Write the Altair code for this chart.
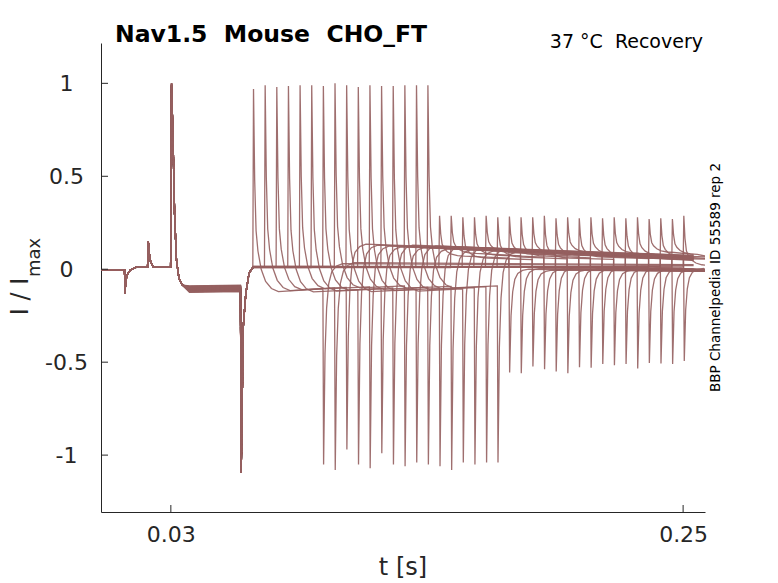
import altair as alt
import pandas as pd

# ---------------- data ----------------
n_sweeps = 38
# onset of the test pulse in every sweep (s)
test_t = [0.0652, 0.0702, 0.0752, 0.0802, 0.0852, 0.0902, 0.0952, 0.1002, 0.1052, 0.1102,
          0.1152, 0.1202, 0.1252, 0.1302, 0.1352, 0.1401, 0.1451, 0.1501, 0.1551, 0.1601,
          0.1651, 0.1701, 0.1751, 0.1801, 0.1851, 0.1901, 0.1951, 0.2001, 0.2051, 0.2101,
          0.2151, 0.2201, 0.2251, 0.2301, 0.2351, 0.2401, 0.2451, 0.2500]
pulse_len = 0.0301
# common start of every sweep
prefix_t = [0.0, 0.0101, 0.0103, 0.0106, 0.0112, 0.0125, 0.0150, 0.0200, 0.0203, 0.0207, 0.0213, 0.0225, 0.0299]
prefix_y = [-0.002, -0.002, -0.13, -0.07, -0.03, -0.005, 0.01, 0.012, 0.15, 0.09, 0.04, 0.012, 0.01]
p1_t = 0.0303
p1_tail_t = [0.0309, 0.0316, 0.0324, 0.0335, 0.0350]
p1_tail_y = [0.72, 0.30, 0.05, -0.05, -0.085]
hold_t = [0.0380, 0.0599]
tail_t = [0.0602, 0.0611, 0.0622, 0.0636]
tail_y = [-1.095, -0.31, -0.13, -0.02]
p1_peak = [1.0, 0.995, 0.99, 1.0, 0.985, 0.99, 0.995, 1.0, 0.98, 0.99, 0.995, 0.985, 1.0, 0.99,
           0.975, 0.995, 0.99, 1.0, 0.985, 0.99, 0.995, 0.98, 1.0, 0.99, 0.985, 0.995, 0.99, 1.0,
           0.98, 0.99, 0.995, 0.985, 1.0, 0.99, 0.97, 0.995, 0.99, 1.0]
hold_level = [-0.125, -0.12, -0.118, -0.115, -0.112, -0.11, -0.108, -0.105, -0.102, -0.1,
              -0.098, -0.095, -0.092, -0.09, -0.122, -0.117, -0.113, -0.109, -0.106, -0.103,
              -0.1, -0.097, -0.094, -0.12, -0.115, -0.111, -0.107, -0.104, -0.101, -0.099,
              -0.096, -0.093, -0.119, -0.114, -0.11, -0.106, -0.102, -0.098]
pre_level = [0.012, 0.01, 0.014, 0.011, 0.013, 0.009, 0.012, 0.015, 0.01, 0.013, 0.011, 0.014,
             0.012, 0.01, 0.013, 0.011, 0.012, 0.009, 0.014, 0.01, 0.013, 0.011, 0.012, 0.015,
             0.01, 0.013, 0.011, 0.012, 0.014, 0.01, 0.012, 0.013, 0.011, 0.012, 0.01, 0.014,
             0.012, 0.012]
up_peak = [0.97, 0.99, 0.98, 0.985, 0.99, 0.99, 0.985, 1.0, 0.99, 0.98, 0.99, 0.985, 0.985, 0.99, 0.99, 0.99,
           0.287, 0.287, 0.279, 0.279, 0.287, 0.279, 0.283, 0.279, 0.279, 0.287, 0.274, 0.279,
           0.274, 0.279, 0.274, 0.279, 0.274, 0.279, 0.270, 0.274, 0.270, 0.287]
test_level = [-0.12, -0.115, -0.11, -0.122, -0.105, -0.118, -0.112, -0.1, -0.12, -0.108, -0.115,
              -0.102, -0.118, -0.11, -0.105, -0.1,
              0.07, 0.085, 0.06, 0.075, 0.09, 0.065, 0.08, 0.07, 0.085, 0.06, 0.075, 0.09,
              0.065, 0.08, 0.07, 0.085, 0.06, 0.075, 0.09, 0.065, 0.08, 0.02]
test_level_end = [-0.105, -0.1, -0.098, -0.11, -0.095, -0.105, -0.1, -0.09, -0.108, -0.097, -0.103,
                  -0.092, -0.106, -0.099, -0.094, -0.09,
                  0.06, 0.072, 0.052, 0.065, 0.078, 0.056, 0.07, 0.061, 0.074, 0.053, 0.066, 0.078,
                  0.057, 0.07, 0.062, 0.074, 0.055, 0.066, 0.08, 0.058, 0.071, 0.02]
down_tip = [-1.05, -1.08, -0.97, -1.05, -1.07, -0.99, -1.05, -1.06, -1.04, -1.05, -1.06, -1.08,
            -1.04, -1.05, -1.04, -1.04,
            -0.556, -0.559, -0.523, -0.538, -0.55, -0.559, -0.527, -0.53, -0.51, -0.516, -0.51,
            -0.534, -0.504, -0.507, -0.51, -0.493]
post_level = [0.03, 0.035, 0.135, 0.13, 0.125, 0.12, 0.13, 0.118, 0.125, 0.11, 0.12, 0.105, 0.115,
              0.1, 0.11, 0.095,
              0.0, 0.005, -0.005, 0.002, 0.008, -0.003, 0.004, 0.0, 0.006, -0.004, 0.003, 0.007,
              -0.002, 0.005, 0.0, 0.004, 0.0, 0.0, 0.0, 0.0, 0.0, 0.0]
end_level = [0.02, 0.025, 0.07, 0.065, 0.06, 0.055, 0.075, 0.06, 0.07, 0.055, 0.065, 0.05, 0.06,
             0.05, 0.058, 0.048,
             -0.01, -0.005, -0.012, -0.008, 0.0, -0.01, -0.004, -0.009, -0.002, -0.012, -0.006,
             0.0, -0.011, -0.004, -0.008, -0.003, 0.0, 0.0, 0.0, 0.0, 0.0, 0.0]
trace_end = [0.2545] * 16 + [0.2594, 0.2545, 0.2594, 0.2594, 0.2545, 0.2594, 0.2594, 0.2594,
                             0.2545, 0.2594, 0.2594, 0.2594, 0.2545, 0.2594, 0.2594, 0.2594,
                             0.2594, 0.2594, 0.2545, 0.2594, 0.2594, 0.2594]
# transient shapes (time after the step, fraction of the jump still left)
up_dt = [0.0003, 0.0008, 0.0014, 0.0022, 0.0036, 0.0055, 0.0080, 0.0110]
up_frac = [1.0, 0.55, 0.30, 0.20, 0.11, 0.05, 0.015, 0.0]
down_dt = [0.0003, 0.0009, 0.0016, 0.0025, 0.0038, 0.0058, 0.0085]
down_frac = [1.0, 0.45, 0.22, 0.10, 0.04, 0.012, 0.0]

y_ticks = [-1, -0.5, 0, 0.5, 1]
x_ticks = [0.03, 0.25]

# ---------------- build the sweeps ----------------
rows = []
for k in range(n_sweeps):
    pts = list(zip(prefix_t, prefix_y))
    pts.append((p1_t, p1_peak[k]))
    pts += list(zip(p1_tail_t, p1_tail_y))
    pts.append((hold_t[0], hold_level[k]))
    pts.append((hold_t[1], hold_level[k] + 0.004))
    pts += list(zip(tail_t, tail_y))
    a = test_t[k]
    if a > 0.0654:
        pts.append((0.0654, pre_level[k]))
    pts.append((a, pre_level[k]))
    L = test_level[k]
    for dt, f in zip(up_dt, up_frac):
        pts.append((a + dt, L + f * (up_peak[k] - L)))
    if k < len(down_tip):
        b = a + pulse_len
        pts.append((b, test_level_end[k]))
        R = post_level[k]
        for dt, f in zip(down_dt, down_frac):
            pts.append((b + dt, R + f * (down_tip[k] - R)))
        pts.append((trace_end[k], end_level[k]))
    else:
        pts.append((trace_end[k], test_level_end[k]))
    for i, (t, y) in enumerate(pts):
        rows.append({"sweep": k, "i": i, "t": t, "y": y})

df = pd.DataFrame(rows)

axis_color = "#262626"
FONT = "DejaVu Sans"
SP = "\u00a0 "
xscale = alt.Scale(domain=[0, 0.2594], nice=False, zero=False)
yscale = alt.Scale(domain=[-1.306, 1.217], nice=False, zero=False)

lines = alt.Chart(df).mark_line(color="#955f5f", strokeWidth=1.3, opacity=0.9, clip=True).encode(
    x=alt.X("t:Q", scale=xscale,
            axis=alt.Axis(values=x_ticks, title=None, ticks=False, tickSize=0, grid=False,
                          format=".2f", labelFont=FONT, labelFontSize=22, labelColor=axis_color,
                          labelPadding=12, domainColor=axis_color, domainWidth=1)),
    y=alt.Y("y:Q", scale=yscale,
            axis=alt.Axis(values=y_ticks, title=None, ticks=False, tickSize=0, grid=False,
                          labelExpr="'' + datum.value", labelFont=FONT, labelFontSize=22,
                          labelColor=axis_color, labelAlign="center", labelBaseline="middle",
                          labelPadding=35, domainColor=axis_color, domainWidth=1)),
    detail="sweep:N",
    order="i:Q",
)

ytick_rules = alt.Chart(pd.DataFrame({"v": y_ticks})).mark_rule(color=axis_color, strokeWidth=1).encode(
    y=alt.Y("v:Q", scale=yscale), x=alt.value(0), x2=alt.value(7))
xtick_rules = alt.Chart(pd.DataFrame({"v": x_ticks})).mark_rule(color=axis_color, strokeWidth=1).encode(
    x=alt.X("v:Q", scale=xscale), y=alt.value(462), y2=alt.value(469))


def label(text, x, y, size, **kw):
    return alt.Chart(pd.DataFrame({"s": [text]})).mark_text(font=FONT, fontSize=size, **kw).encode(
        x=alt.value(x), y=alt.value(y), text="s:N")


title = label("Nav1.5" + SP + "Mouse" + SP + "CHO_FT", 14, -1, 23.5, fontWeight="bold", align="left",
              baseline="alphabetic", color="#000000")
temp = label("37 °C" + SP + "Recovery", 602, 4.7, 19, align="right", baseline="alphabetic",
             color="#000000")
side = label("BBP Channelpedia ID 55589 rep 2", 619, 234.5, 13.5, angle=270, align="center",
             baseline="alphabetic", color="#000000")
xlab = label("t [s]", 302, 532, 24, align="center", baseline="alphabetic", color=axis_color)
ylab1 = label("I / I", -73, 253.5, 24, angle=270, align="center", baseline="alphabetic", color=axis_color)
ylab2 = label("max", -61, 214.5, 18, angle=270, align="center", baseline="alphabetic", color=axis_color)

chart = alt.layer(lines, ytick_rules, xtick_rules, title, temp, side, xlab, ylab1, ylab2).properties(
    width=604, height=469,
    autosize=alt.AutoSizeParams(type="none"),
    padding={"left": 93, "top": 35, "right": 65, "bottom": 68},
).configure_view(stroke="transparent")

chart.save("out.html", embed_options={"renderer": "svg", "actions": False})
